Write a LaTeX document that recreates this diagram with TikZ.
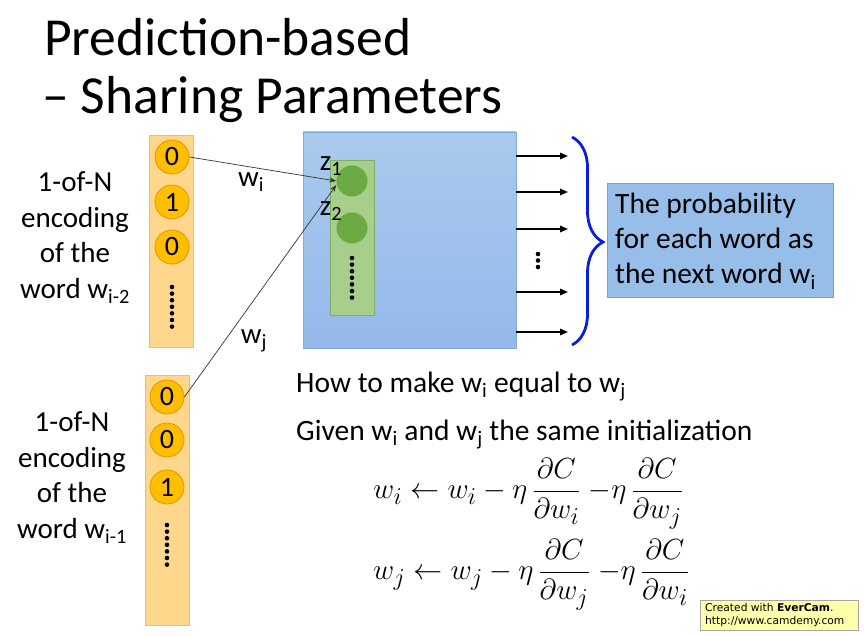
\documentclass[tikz,border=0pt]{standalone}
\usepackage{fontspec}
\setmainfont{Carlito}
\newfontfamily\wmfont{DejaVu Sans}
\usetikzlibrary{arrows.meta,decorations.pathreplacing,calc}
\definecolor{orangeF}{RGB}{254,214,140}
\definecolor{orangeE}{RGB}{246,190,80}
\definecolor{bitF}{RGB}{255,190,0}
\definecolor{bitE}{RGB}{225,150,0}
\definecolor{blueTop}{RGB}{170,202,237}
\definecolor{blueBot}{RGB}{148,185,234}
\definecolor{blueE}{RGB}{130,170,220}
\definecolor{greenF}{RGB}{168,206,140}
\definecolor{greenE}{RGB}{125,175,95}
\definecolor{greenN}{RGB}{108,170,68}
\definecolor{braceC}{RGB}{10,30,225}
\definecolor{probF}{RGB}{150,190,232}
\definecolor{probE}{RGB}{115,160,215}
\definecolor{wmF}{RGB}{255,255,170}
\tikzset{
  big/.style={font=\fontsize{29}{35.5}\selectfont, align=center, inner sep=0pt},
  title/.style={font=\fontsize{53.5}{60}\selectfont, anchor=base west, inner sep=0pt},
  vecbox/.style={fill=orangeF, draw=orangeE, line width=0.8pt},
  bit/.style={circle, fill=bitF, draw=bitE, line width=0.8pt, minimum size=34pt, inner sep=0pt, font=\fontsize{28}{28}\selectfont},
  neuron/.style={circle, fill=greenN, minimum size=31pt, inner sep=0pt},
  wlabel/.style={font=\fontsize{29}{32}\selectfont, inner sep=0pt},
  conn/.style={draw=black!80, line width=0.7pt, -{Stealth[length=7pt,width=5pt]}},
  outarrow/.style={draw=black, line width=1.6pt, -{Triangle[length=8pt,width=6.5pt]}},
  dot/.style={fill=black, draw=none},
  body/.style={font=\fontsize{29.5}{34}\selectfont, anchor=base west, inner sep=0pt},
  eq/.style={font=\fontsize{24.88}{30}\selectfont, inner sep=0pt}
}
\begin{document}
\begin{tikzpicture}[x=1pt,y=-1pt]
\useasboundingbox (0,0) rectangle (864,636);
\fill[white] (0,0) rectangle (864,636);
% title
\node[title] (t1) at (44,56) {Prediction-based};
\node[title] (t2) at (42,114) {– Sharing Parameters};
% top vector
\node[vecbox, minimum width=44pt, minimum height=212pt, inner sep=0pt] (va) at (171.5,241) {};
\node[bit] (a0) at (172,157) {0};
\node[bit] (a1) at (172,202) {1};
\node[bit] (a2) at (172,247) {0};
\foreach \k in {0,...,6} \fill[dot] (172,{287+\k*6.6}) circle (2.3);
\node[big] (la) at (75,238) {1-of-N\\encoding\\of the\\word w\textsubscript{i-2}};
% bottom vector
\node[vecbox, minimum width=44pt, minimum height=250pt, inner sep=0pt] (vb) at (167.5,500) {};
\node[bit] (b0) at (167,397) {0};
\node[bit] (b1) at (167,440) {0};
\node[bit] (b2) at (167,487) {1};
\foreach \k in {0,...,6} \fill[dot] (167,{525+\k*6.6}) circle (2.3);
\node[big] (lb) at (72,478) {1-of-N\\encoding\\of the\\word w\textsubscript{i-1}};
% big network box
\shade[top color=blueTop, bottom color=blueBot, draw=blueE, line width=0.8pt] (303,132) rectangle (516,348);
\node[minimum width=213pt, minimum height=216pt, inner sep=0pt] (net) at (409.5,240) {};
\node[fill=greenF, draw=greenE, line width=0.8pt, minimum width=44pt, minimum height=155pt, inner sep=0pt] (hid) at (352,237.5) {};
\node[neuron] (g1) at (352,181) {};
\node[neuron] (g2) at (352,228) {};
\foreach \k in {0,...,6} \fill[dot] (352,{258+\k*6.6}) circle (2.3);
\node[wlabel] (z1) at (331,166) {z\textsubscript{1}};
\node[wlabel] (z2) at (331,211) {z\textsubscript{2}};
% connections
\draw[conn] (a0.east) -- (g1.west);
\draw[conn] (b0.east) -- ($(g1.west)+(0,4)$);
\node[wlabel] (wi) at (251,182) {w\textsubscript{i}};
\node[wlabel] (wj) at (254,341) {w\textsubscript{j}};
% outputs
\foreach \yy/\n in {156/o1,192/o2,229/o3,292/o4,332/o5} {
  \coordinate (\n s) at (516,\yy);
  \coordinate (\n e) at (568,\yy);
  \draw[outarrow] (\n s) -- (\n e);
}
\foreach \k in {0,1,2} \fill[dot] (538,{254+\k*6.5}) circle (2.3);
% brace
\coordinate (bt) at (572,137);
\coordinate (bb) at (572,345);
\draw[braceC, line width=2.8pt, decorate, decoration={brace, amplitude=31pt, aspect=0.505}] (bt) -- (bb);
% probability box
\node[fill=probF, draw=probE, line width=0.8pt, minimum width=226pt, minimum height=114pt, inner sep=0pt] (prob) at (720,240) {};
\node[font=\fontsize{29.5}{35}\selectfont, align=left, anchor=west, inner sep=0pt] (probt) at (615,241) {The probability\\for each word as\\the next word w\textsubscript{i}};
% text
\node[body] (h1) at (296,392) {How to make w\textsubscript{i} equal to w\textsubscript{j}};
\node[body] (h2) at (296,440) {Given w\textsubscript{i} and w\textsubscript{j} the same initialization};
% equations
\node[eq, anchor=west] (e1) at (373,494) {\scalebox{1.17}{$\displaystyle w_i \leftarrow w_i - \eta\,\frac{\partial C}{\partial w_i}\;{-\eta}\,\frac{\partial C}{\partial w_j}$}};
\node[eq, anchor=west] (e2) at (373,575) {\scalebox{1.17}{$\displaystyle w_j \leftarrow w_j - \eta\,\frac{\partial C}{\partial w_j}\;{-\eta}\,\frac{\partial C}{\partial w_i}$}};
% watermark
\node[fill=wmF, draw=black!35, line width=0.6pt, minimum width=158pt, minimum height=30pt, inner sep=0pt] (wm) at (779,615) {};
\node[font=\wmfont\fontsize{10.7}{13}\selectfont, align=left, anchor=west, inner sep=0pt] (wmt) at (705,615) {Created with \textbf{EverCam}.\\http://www.camdemy.com};
\end{tikzpicture}
\end{document}
